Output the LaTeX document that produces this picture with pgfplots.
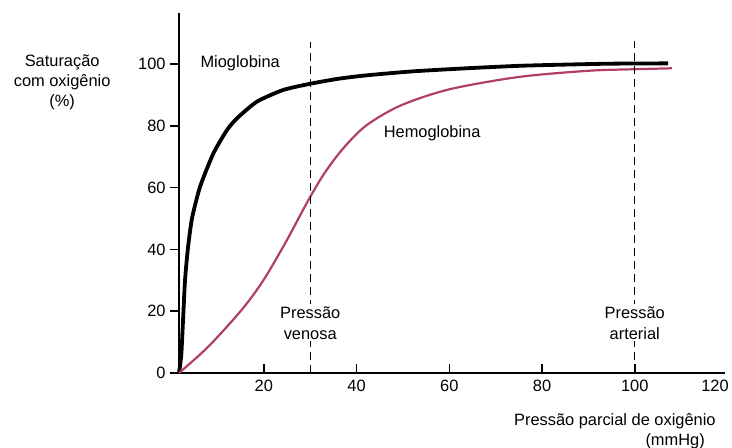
\documentclass[border=0pt]{standalone}
\usepackage{pgfplots}
\pgfplotsset{compat=1.18}
\usepackage{fontspec}
\setmainfont{Liberation Sans}
\definecolor{hemo}{RGB}{176,62,104}

\begin{document}
\begin{tikzpicture}[font=\fontsize{8.2}{10.5}\selectfont]
\useasboundingbox (-89.5pt,-37.5pt) rectangle (276.5pt,186.5pt);
\begin{axis}[
    scale only axis,
    width=273.1pt, height=180pt,
    xmin=1.7, xmax=119.5,
    ymin=0, ymax=116.5,
    axis x line=bottom, axis y line=left,
    axis line style={-, line width=1pt},
    xtick={20,40,60,80,100},
    ytick={0,20,40,60,80,100},
    extra x ticks={117.3},
    extra x tick labels={120},
    extra x tick style={major tick length=0pt},
    tick align=inside,
    major tick length=4.5pt,
    tick style={line width=0.8pt, black},
    ytick style={xshift=-4.5pt},
    yticklabel style={xshift=-3.2pt},
    /pgf/number format/assume math mode=true,
    clip=false,
]
% Mioglobina
\addplot[black, line width=1.9pt, smooth, tension=0.4] coordinates {
 (1.7,0) (2.2,6) (2.6,18) (3.0,30) (3.6,40) (4.5,50) (6.25,60.3) (9.1,71)
 (12,78.5) (14.2,82.4) (18.5,87.8) (24.2,91.6) (30,93.6) (36,95.2) (42,96.3)
 (52,97.6) (63.6,98.6) (75,99.4) (85,99.8) (95,100.1) (107.2,100.2)
};
% Hemoglobina
\addplot[hemo, line width=1.1pt, smooth, tension=0.5] coordinates {
 (1.7,0) (8,8.5) (15.2,20.4) (19.9,30) (24.6,42) (28,51.5) (30,57) (33,64.5)
 (37,72.5) (42,80) (49.4,86.5) (60,91.8) (75,95.8) (90,97.8) (100,98.3) (108,98.6)
};
% linhas de referencia
\addplot[black, line width=0.7pt, dash pattern=on 4pt off 2.5pt] coordinates {(30,0) (30,107)};
\addplot[black, line width=0.7pt, dash pattern=on 4pt off 2.5pt] coordinates {(100,0) (100,107.5)};

\node[fill=white, align=center, inner sep=1pt] at (axis cs:30,16.2) {Pressão\\venosa};
\node[fill=white, align=center, inner sep=1pt] at (axis cs:100,16.2) {Pressão\\arterial};
\node at (axis cs:14.9,100.3) {Mioglobina};
\node at (axis cs:56.3,77.7) {Hemoglobina};
\node[align=center, font=\fontsize{8.2}{10}\selectfont] at (axis cs:-23.5,94.2) {Saturação\\com oxigênio\\(\%)};
\node at (axis cs:95.7,-15.5) {Pressão parcial de oxigênio};
\node at (axis cs:108.7,-22.0) {(mmHg)};
\end{axis}
\end{tikzpicture}
\end{document}
